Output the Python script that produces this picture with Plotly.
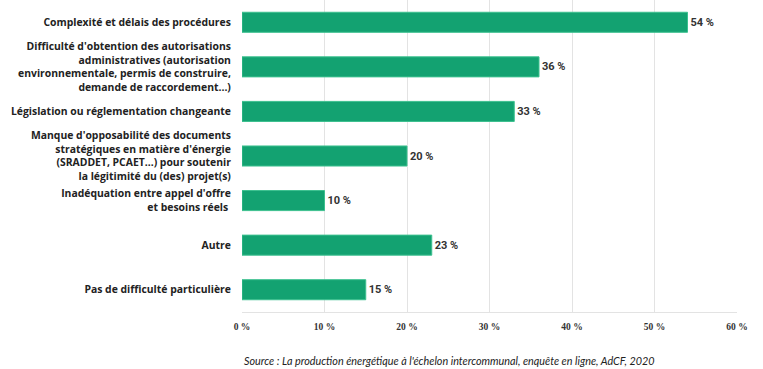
import plotly.graph_objects as go

categories = [
    "Complexité et délais des procédures",
    "Difficulté d'obtention des autorisations<br>administratives (autorisation<br>environnementale, permis de construire,<br>demande de raccordement...)",
    "Législation ou réglementation changeante",
    "Manque d'opposabilité des documents<br>stratégiques en matière d'énergie<br>(SRADDET, PCAET...) pour soutenir<br>la légitimité du (des) projet(s)",
    "Inadéquation entre appel d'offre<br>et besoins réels ",
    "Autre",
    "Pas de difficulté particulière",
]
values = [54, 36, 33, 20, 10, 23, 15]
value_labels = ["54 %", "36 %", "33 %", "20 %", "10 %", "23 %", "15 %"]
tick_vals = [0, 10, 20, 30, 40, 50, 60]
tick_text = ["0 %", "10 %", "20 %", "30 %", "40 %", "50 %", "60 %"]
source = "Source : La production énergétique à l'échelon intercommunal, enquête en ligne, AdCF, 2020"

fig = go.Figure(go.Bar(
    x=values, y=list(range(len(categories))), orientation="h",
    marker=dict(color="#13a271", line=dict(color="#3cc08f", width=1)),
    width=0.45,
    text=value_labels, textposition="outside",
    textfont=dict(family="Liberation Sans Narrow, Roboto, sans-serif", size=11, color="#333", weight="bold"),
    cliponaxis=False,
))

fig.update_layout(
    width=763, height=369,
    margin=dict(l=242, r=26, t=0, b=57),
    paper_bgcolor="white", plot_bgcolor="white",
    showlegend=False,
    font=dict(family="Open Sans", color="#222"),
    xaxis=dict(range=[0, 60], tickvals=tick_vals, ticktext=tick_text,
               showgrid=True, gridcolor="#e3e3e3", gridwidth=1,
               zeroline=False, showline=True, linecolor="#e3e3e3", mirror=False,
               tickfont=dict(family="Liberation Sans Narrow", size=9.5, color="#333", weight="bold"),
               ticks="outside", ticklen=6, tickcolor="rgba(0,0,0,0)", fixedrange=True,
               automargin=False),
    yaxis=dict(range=[6.5, -0.5], tickvals=list(range(len(categories))), ticktext=categories,
               showgrid=False, zeroline=False, showline=False, automargin=False,
               tickfont=dict(family="Open Sans", size=10.4, color="#222", weight="bold"),
               ticks="outside", ticklen=8, tickcolor="rgba(0,0,0,0)"),
    annotations=[dict(text=source, xref="paper", yref="paper", x=0, y=-0.128,
                      xanchor="left", yanchor="top", showarrow=False,
                      font=dict(family="Lato", size=10.8, color="#222", style="italic"))],
)

fig.write_html("out.html")
